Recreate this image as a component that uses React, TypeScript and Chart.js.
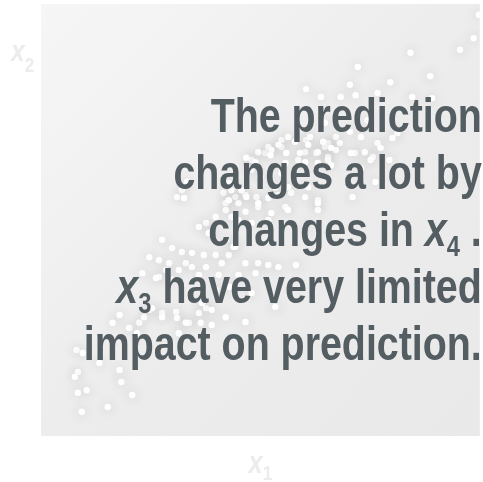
import React, { useEffect, useRef } from "react";
import { Chart, registerables } from "chart.js";

Chart.register(...registerables);

// Scatter points (x1, x2) in arbitrary units 0..10
const upperCluster: [number, number][] = [
  [9.98, 9.75], [9.86, 9.21], [9.55, 8.94], [8.42, 8.87], [8.87, 8.33], [7.22, 8.54], [7.96, 8.19],
  [7.04, 8.13], [6.04, 8.03], [7.67, 7.94], [8.46, 7.85], [8.91, 7.82], [6.38, 7.85], [6.83, 7.85],
  [7.17, 7.89], [7.04, 7.04], [8.12, 7.01], [6.72, 6.92], [7.29, 6.92], [6.54, 6.78], [8.01, 6.9],
  [5.48, 6.85], [5.63, 6.92], [6.04, 6.85], [6.47, 6.69], [6.27, 6.55], [6.54, 6.46], [6.81, 6.78],
  [7.67, 6.78], [7.15, 6.55], [7.56, 6.46], [7.62, 5.88], [7.1, 5.53], [4.68, 5.53], [4.95, 5.39],
  [5.25, 5.16], [5.63, 5.76], [6.09, 5.76], [6.31, 5.39], [6.02, 4.84], [7.44, 7.31], [6.47, 7.25],
  [5.79, 6.81], [6.13, 6.92], [7.74, 6.67], [5.41, 6.74], [5.25, 6.62], [4.95, 6.57], [6.02, 6.57],
  [6.31, 6.57], [6.72, 6.62], [7.06, 6.55], [7.38, 6.57], [7.51, 6.39], [4.8, 6.39], [5.86, 6.39],
  [5.57, 6.32], [6.54, 6.39], [7.94, 6.39], [7.29, 6.2], [4.73, 6.2], [5.0, 6.0], [4.28, 5.86],
  [6.09, 6.74], [6.43, 6.81], [5.23, 6.5], [5.59, 6.55], [5.9, 6.55], [6.61, 6.67], [4.68, 6.44],
  [4.89, 6.34], [6.02, 6.34], [6.31, 6.32], [6.61, 6.27],
];

const middleCluster: [number, number][] = [
  [3.21, 5.69], [3.1, 5.53], [3.26, 5.51], [3.33, 5.88], [4.16, 5.63], [4.43, 5.53], [4.66, 5.58],
  [4.91, 5.53], [4.21, 5.39], [4.5, 5.39], [5.18, 5.51], [5.41, 5.58], [5.7, 5.63], [6.02, 5.53],
  [6.31, 5.46], [4.21, 5.23], [4.66, 5.19], [4.95, 5.3], [5.57, 5.3], [6.31, 5.23], [3.98, 5.07],
  [4.34, 5.07], [3.76, 4.93], [3.6, 4.84], [3.89, 4.72], [2.76, 4.54], [2.99, 4.35], [3.21, 4.26],
  [3.44, 4.24], [3.71, 4.19], [3.98, 4.19], [4.28, 4.19], [4.43, 4.38], [2.47, 4.14], [2.69, 4.07],
  [2.92, 4.0], [3.3, 4.0], [2.85, 3.84], [3.14, 3.84], [3.44, 3.91], [3.76, 3.91], [4.12, 4.0],
  [4.66, 4.0], [4.95, 4.0], [2.31, 3.77], [2.69, 3.68], [2.99, 3.61], [3.6, 3.73], [4.05, 3.73],
  [4.5, 3.73], [4.89, 3.77], [5.18, 3.96], [5.41, 3.91], [5.81, 3.96], [3.82, 4.7], [4.21, 4.54],
  [4.39, 4.38], [4.28, 5.46], [4.34, 5.69], [5.34, 5.76], [5.63, 5.23], [5.11, 6.55], [5.18, 6.69],
  [5.48, 6.69], [5.48, 6.09], [4.8, 6.16], [4.57, 5.69], [4.5, 5.0], [4.8, 4.93], [5.18, 5.0],
  [2.62, 3.66], [3.98, 3.38], [4.8, 3.31], [4.3, 3.45],
];

const lowerCluster: [number, number][] = [
  [1.79, 2.8], [1.63, 2.62], [2.01, 2.5], [2.24, 2.62], [2.19, 2.38], [2.35, 2.75], [2.76, 2.85],
  [3.08, 2.87], [3.1, 2.73], [3.37, 2.62], [3.64, 2.62], [3.6, 2.85], [3.76, 2.96], [3.67, 3.08],
  [2.47, 2.92], [2.76, 2.75], [3.3, 2.62], [3.89, 2.92], [4.21, 2.75], [5.34, 2.99], [4.66, 2.64],
  [3.89, 2.57], [2.53, 2.96], [3.14, 2.38], [0.81, 1.99], [0.84, 1.48], [1.04, 1.06], [0.84, 1.0],
  [0.93, 0.56], [1.52, 0.67], [2.08, 0.95], [1.83, 1.25], [1.33, 1.69], [1.79, 1.53], [0.77, 1.37],
  [0.95, 1.92],
];

type Seg = { t: string; italic?: boolean; sub?: boolean };

const headlineLines: Seg[][] = [
  [{ t: "The prediction" }],
  [{ t: "changes a lot by" }],
  [{ t: "changes in " }, { t: "x", italic: true }, { t: "4", sub: true }, { t: " ." }],
  [{ t: "x", italic: true }, { t: "3", sub: true }, { t: " have very limited" }],
  [{ t: "impact on prediction." }],
];

const xAxisLabel: Seg[] = [{ t: "x", italic: true }, { t: "1", sub: true }];
const yAxisLabel: Seg[] = [{ t: "x", italic: true }, { t: "2", sub: true }];

const TEXT_COLOR = "#545d62";
const LABEL_COLOR = "#ececec";

function toPoints(arr: [number, number][]) {
  return arr.map(([x, y]) => ({ x, y }));
}

export default function App() {
  const ref = useRef<HTMLCanvasElement | null>(null);

  useEffect(() => {
    document.body.style.margin = "0";
    const canvas = ref.current;
    if (!canvas) return;

    let family = "'Liberation Sans'";
    let sx = 0.82;
    {
      const c = canvas.getContext("2d")!;
      c.font = "bold 100px 'Liberation Sans Narrow', 'Liberation Sans'";
      const a = c.measureText("The prediction").width;
      c.font = "bold 100px 'Liberation Sans'";
      const b = c.measureText("The prediction").width;
      if (a / b < 0.9) {
        family = "'Liberation Sans Narrow'";
        sx = 1;
      }
    }

    const drawSegs = (
      ctx: CanvasRenderingContext2D,
      segs: Seg[],
      anchorX: number,
      baseline: number,
      size: number,
      subSize: number,
      subShift: number,
      align: "right" | "left" | "center"
    ) => {
      const fontFor = (s: Seg) =>
        `${s.italic ? "italic " : ""}bold ${s.sub ? subSize : size}px ${family}`;
      const widths = segs.map((s) => {
        ctx.font = fontFor(s);
        return ctx.measureText(s.t).width * sx;
      });
      const total = widths.reduce((p, c) => p + c, 0);
      let x = align === "right" ? anchorX - total : align === "center" ? anchorX - total / 2 : anchorX;
      segs.forEach((s, i) => {
        ctx.save();
        ctx.font = fontFor(s);
        ctx.textAlign = "left";
        ctx.textBaseline = "alphabetic";
        ctx.translate(x, baseline + (s.sub ? subShift : 0));
        ctx.scale(sx, 1);
        ctx.fillText(s.t, 0, 0);
        ctx.restore();
        x += widths[i];
      });
    };

    const decor = {
      id: "decor",
      beforeDatasetsDraw(chart: any) {
        const { ctx, chartArea: a } = chart;
        ctx.save();
        const g = ctx.createLinearGradient(a.left, a.top, a.right, a.bottom);
        g.addColorStop(0, "#f6f6f6");
        g.addColorStop(0.55, "#ececec");
        g.addColorStop(1, "#e9e9e9");
        ctx.fillStyle = g;
        ctx.fillRect(a.left, a.top, a.right - a.left, a.bottom - a.top);
        ctx.restore();
        ctx.save();
        ctx.shadowColor = "rgba(0,0,0,0.2)";
        ctx.shadowBlur = 12;
      },
      afterDatasetsDraw(chart: any) {
        const { ctx, chartArea: a } = chart;
        ctx.restore();
        ctx.save();
        ctx.fillStyle = TEXT_COLOR;
        const right = a.right + 2;
        const baselines = [132, 189, 246, 303, 360];
        headlineLines.forEach((segs, i) => {
          drawSegs(ctx, segs, right, baselines[i], 48, 29, 10, "right");
        });
        ctx.fillStyle = LABEL_COLOR;
        drawSegs(ctx, yAxisLabel, 11, 61, 30, 21, 11, "left");
        drawSegs(ctx, xAxisLabel, (a.left + a.right) / 2, 473, 31, 21, 7, "center");
        ctx.restore();
      },
    };

    const pointStyle = {
      pointRadius: 3.2,
      pointHoverRadius: 3.2,
      pointBackgroundColor: "#ffffff",
      pointBorderWidth: 0,
      borderWidth: 0,
      showLine: false,
    };

    const chart = new Chart(canvas, {
      type: "scatter",
      data: {
        datasets: [
          { label: "upper", data: toPoints(upperCluster), ...pointStyle },
          { label: "middle", data: toPoints(middleCluster), ...pointStyle },
          { label: "lower", data: toPoints(lowerCluster), ...pointStyle },
        ],
      },
      options: {
        animation: false,
        responsive: false,
        events: [],
        layout: { padding: { left: 41, top: 4, right: 0, bottom: 46 } },
        scales: {
          x: { type: "linear", min: 0, max: 10, display: false },
          y: { type: "linear", min: 0, max: 10, display: false },
        },
        plugins: {
          legend: { display: false },
          tooltip: { enabled: false },
        },
      },
      plugins: [decor],
    });

    return () => chart.destroy();
  }, []);

  return <canvas ref={ref} width={483} height={482} style={{ display: "block" }} />;
}
